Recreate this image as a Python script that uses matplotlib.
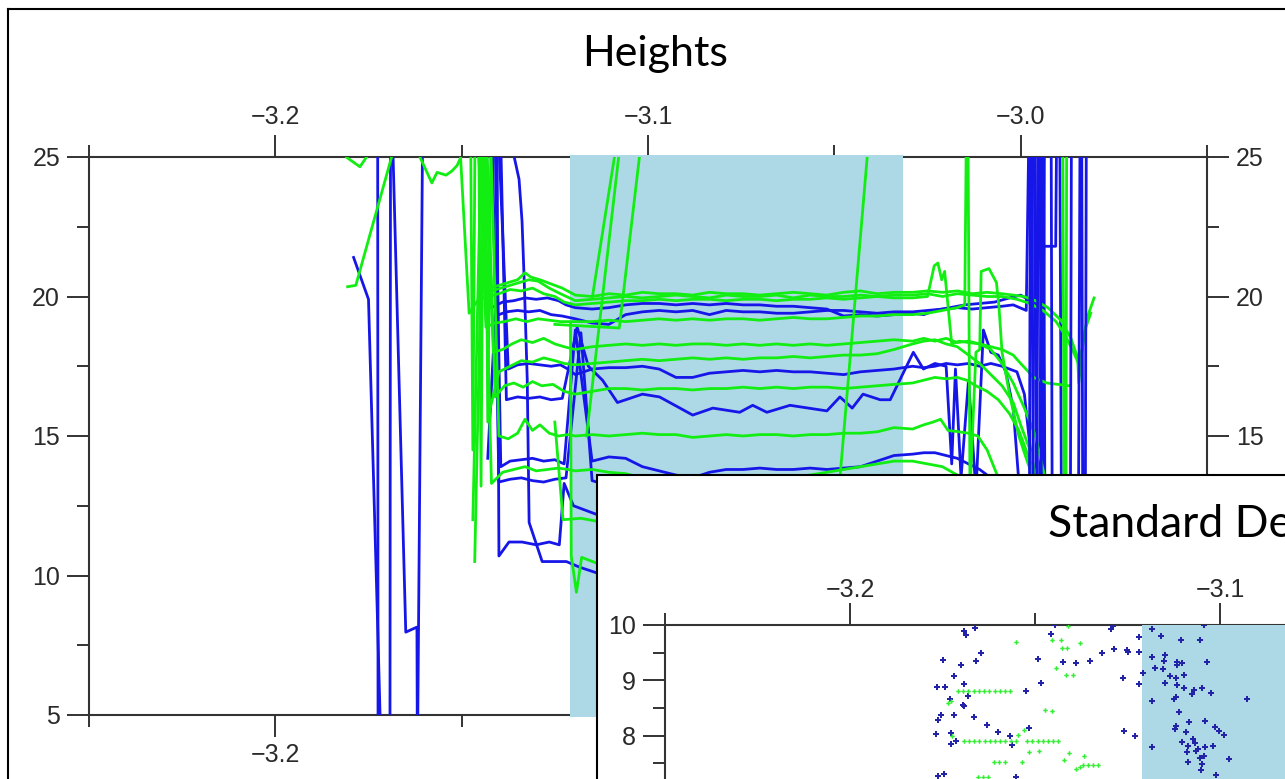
import matplotlib
matplotlib.use("Agg")
import matplotlib.pyplot as plt
from matplotlib.patches import Rectangle
from matplotlib.lines import Line2D

plt.rcParams['font.family'] = ['Liberation Sans', 'DejaVu Sans']

W, H = 1285, 779

# ---- tick values / labels ----
x_major = [-3.2, -3.1, -3.0]
x_minor = [-3.25, -3.15, -3.05, -2.95]
x_labels = ['\u22123.2', '\u22123.1', '\u22123.0']
y_major = [5, 10, 15, 20, 25]
y_minor = [7.5, 12.5, 17.5, 22.5]
sd_x_major = [-3.2, -3.1]
sd_x_minor = [-3.25, -3.15]
sd_x_labels = ['\u22123.2', '\u22123.1']
sd_y_major = [8, 9, 10]
sd_y_minor = [7.5, 8.5, 9.5]
span = [-3.1210, -3.0315]

# ---- Heights: shared x of the flat part inside the shaded band ----
x_band = [-3.1195, -3.1150, -3.1105, -3.1060, -3.1015, -3.0970, -3.0925, -3.0880, -3.0835, -3.0790,
          -3.0745, -3.0700, -3.0655, -3.0610, -3.0565, -3.0520, -3.0475, -3.0430, -3.0385, -3.0340]

# green traces
g1_lx = [-3.1480, -3.1452, -3.1425, -3.1400, -3.1375, -3.1350, -3.1330, -3.1315, -3.1290, -3.1260, -3.1230]
g1_ly = [31.0, 24.5, 20.3, 20.4, 20.5, 20.6, 20.85, 20.7, 20.6, 20.45, 20.3]
g1_b = [20.05, 20.0, 20.1, 20.05, 20.15, 20.1, 20.1, 20.05, 20.15, 20.1, 20.1, 20.05, 20.1, 20.15, 20.1, 20.05, 20.15, 20.2, 20.1, 20.15]
g1_rx = [-3.0290, -3.0250, -3.0210, -3.0170, -3.0130, -3.0090, -3.0050, -3.0020, -2.9992, -2.9960, -2.9927, -2.9892, -2.9865, -2.9847, -2.9844, -2.9833, -2.9820, -2.9803]
g1_ry = [20.15, 20.2, 20.15, 20.2, 20.1, 20.15, 20.1, 20.05, 20.0, 19.85, 19.6, 19.15, 18.5, 17.8, 16.9, 18.4, 19.3, 19.95]

g2_lx = [-3.1470, -3.1445, -3.1420, -3.1395, -3.1370, -3.1345, -3.1320, -3.1295, -3.1265, -3.1235]
g2_ly = [12.0, 27.0, 20.2, 20.3, 20.4, 20.5, 20.6, 20.55, 20.3, 20.1]
g2_b = [19.85, 19.9, 19.95, 20.0, 19.95, 20.0, 20.05, 20.0, 19.95, 20.05, 20.0, 20.0, 20.05, 19.95, 20.05, 20.0, 20.0, 20.05, 20.0, 20.05]
g2_rx = [-3.0290, -3.0250, -3.0210, -3.0170, -3.0130, -3.0090, -3.0050, -3.0010, -2.9975, -2.9940, -2.9905, -2.9880, -2.9858, -2.9845, -2.9835, -2.9825, -2.9812]
g2_ry = [20.05, 20.1, 20.0, 20.1, 20.05, 20.0, 20.0, 19.9, 19.75, 19.5, 19.1, 18.6, 18.0, 17.6, 18.1, 18.9, 19.4]

g3_lx = [-3.1505, -3.1480, -3.1455, -3.1430, -3.1400, -3.1370, -3.1340, -3.1310, -3.1280, -3.1250, -3.1225]
g3_ly = [25.5, 19.4, 19.9, 20.0, 20.1, 20.25, 20.2, 20.3, 20.1, 20.0, 19.8]
g3_b = [19.7, 19.75, 19.8, 19.85, 19.85, 19.9, 19.85, 19.9, 19.9, 19.85, 19.9, 19.9, 19.85, 19.9, 19.9, 19.95, 19.9, 19.95, 20.0, 19.95]
g3_rx = [-3.0290, -3.0250, -3.0232, -3.0222, -3.0212, -3.0204, -3.0185, -3.0165, -3.0140, -3.0110, -3.0080, -3.0050, -3.0020, -2.9990, -2.9960, -2.9935]
g3_ry = [19.95, 20.0, 21.1, 21.2, 20.6, 20.9, 18.3, 18.4, 18.35, 18.3, 18.1, 17.6, 16.9, 16.0, 15.0, 13.5]

g4_lx = [-3.1460, -3.1435, -3.1410, -3.1385, -3.1355, -3.1325, -3.1295, -3.1265, -3.1235]
g4_ly = [27.5, 18.9, 19.05, 19.1, 19.2, 19.1, 19.2, 19.15, 19.1]
g4_b = [19.1, 19.1, 19.15, 19.1, 19.15, 19.2, 19.15, 19.2, 19.15, 19.2, 19.2, 19.15, 19.2, 19.25, 19.2, 19.2, 19.25, 19.3, 19.3, 19.35]
g4_rx = [-3.0290, -3.0250, -3.0210, -3.0170, -3.0150, -3.0143, -3.0136, -3.0120, -3.0110, -3.0106, -3.0085, -3.0065, -3.0058, -3.0050, -3.0030, -3.0005, -2.9980, -2.9950, -2.9920]
g4_ry = [19.35, 19.4, 19.5, 19.6, 19.7, 30.0, 13.0, 18.0, 18.1, 20.9, 21.0, 20.5, 19.6, 18.0, 16.5, 15.0, 14.0, 13.0, 12.0]

g5_lx = [-3.1465, -3.1440, -3.1415, -3.1390, -3.1365, -3.1340, -3.1310, -3.1280, -3.1250, -3.1225]
g5_ly = [10.5, 26.0, 18.0, 18.1, 18.3, 18.45, 18.35, 18.5, 18.3, 18.2]
g5_b = [18.1, 18.2, 18.25, 18.3, 18.25, 18.3, 18.25, 18.3, 18.3, 18.25, 18.3, 18.25, 18.3, 18.25, 18.3, 18.25, 18.3, 18.35, 18.4, 18.45]
g5_rx = [-3.0290, -3.0260, -3.0230, -3.0200, -3.0170, -3.0140, -3.0110, -3.0080, -3.0050, -3.0020, -3.0000, -2.9965, -2.9930, -2.9900, -2.9870]
g5_ry = [18.4, 18.5, 18.4, 18.5, 18.35, 18.4, 18.3, 18.2, 18.1, 17.9, 17.6, 17.1, 16.9, 16.85, 16.8]

g6_lx = [-3.1450, -3.1425, -3.1400, -3.1370, -3.1340, -3.1310, -3.1280, -3.1250, -3.1225]
g6_ly = [28.0, 15.9, 17.3, 17.5, 17.7, 17.65, 17.8, 17.7, 17.6]
g6_b = [17.55, 17.6, 17.65, 17.7, 17.75, 17.7, 17.75, 17.8, 17.75, 17.8, 17.75, 17.8, 17.8, 17.85, 17.8, 17.85, 17.9, 17.9, 17.95, 18.1]
g6_rx = [-3.0290, -3.0260, -3.0230, -3.0200, -3.0170, -3.0140, -3.0110, -3.0080, -3.0050, -3.0020, -3.0000, -2.9975, -2.9950]
g6_ry = [18.3, 18.4, 18.45, 18.3, 18.2, 17.9, 17.6, 17.2, 16.8, 16.2, 15.4, 14.5, 13.0]

g7_lx = [-3.1435, -3.1410, -3.1385, -3.1360, -3.1335, -3.1310, -3.1285, -3.1255, -3.1225]
g7_ly = [26.5, 16.4, 16.8, 16.9, 16.75, 16.95, 16.8, 16.85, 16.6]
g7_b = [16.5, 16.6, 16.7, 16.7, 16.65, 16.7, 16.7, 16.65, 16.7, 16.7, 16.75, 16.7, 16.75, 16.7, 16.75, 16.75, 16.7, 16.75, 16.8, 16.85]
g7_rx = [-3.0290, -3.0260, -3.0230, -3.0200, -3.0170, -3.0145, -3.0120, -3.0090, -3.0060, -3.0030, -3.0005, -2.9980, -2.9955]
g7_ry = [16.9, 17.0, 17.1, 17.05, 17.1, 17.0, 16.8, 16.6, 16.3, 15.8, 15.2, 14.3, 13.0]

g8_lx = [-3.1425, -3.1400, -3.1375, -3.1350, -3.1330, -3.1310, -3.1290, -3.1265, -3.1240, -3.1215]
g8_ly = [27.0, 15.0, 14.9, 15.1, 15.6, 15.2, 15.4, 15.1, 15.0, 15.05]
g8_b = [15.0, 15.05, 15.0, 15.05, 15.1, 15.05, 15.05, 14.95, 15.0, 15.05, 15.0, 15.05, 15.05, 15.0, 15.05, 15.05, 15.1, 15.1, 15.15, 15.3]
g8_rx = [-3.0290, -3.0260, -3.0235, -3.0215, -3.0195, -3.0165, -3.0140, -3.0115, -3.0090, -3.0060, -3.0030]
g8_ry = [15.25, 15.4, 15.5, 15.6, 15.2, 15.15, 15.1, 15.0, 14.5, 13.5, 12.0]

g9_lx = [-3.1445, -3.1420, -3.1390, -3.1360, -3.1330, -3.1300, -3.1270, -3.1240, -3.1215]
g9_ly = [26.0, 13.3, 13.7, 13.8, 13.9, 13.75, 13.8, 13.85, 13.8]
g9_b = [13.75, 13.8, 13.7, 13.65, 13.5, 13.4, 13.4, 13.45, 13.4, 13.5, 13.5, 13.45, 13.5, 13.55, 13.6, 13.7, 13.8, 13.9, 14.0, 14.1]
g9_rx = [-3.0290, -3.0250, -3.0210, -3.0170]
g9_ry = [14.1, 14.0, 13.9, 13.6]

# short green pieces
g10_x = [-3.1208, -3.1206, -3.1192, -3.1178, -3.1139, -3.1000]
g10_y = [19.0, 10.7, 9.4, 10.65, 10.45, 10.4]
g11_x = [-3.1250, -3.1228, -3.1180, -3.1139, -3.1050]
g11_y = [15.5, 12.0, 12.05, 11.95, 12.0]
s1_x = [-3.1149, -3.1090, -3.1060]
s1_y = [20.0, 25.0, 27.5]
s2_x = [-3.1165, -3.1077, -3.1060]
s2_y = [15.0, 25.2, 26.5]
s3_x = [-3.1250, -3.1077, -3.1023, -3.1010]
s3_y = [19.0, 18.87, 25.0, 26.5]
s4_x = [-3.0539, -3.0380]
s4_y = [5.0, 30.0]
l1_x = [-3.1806, -3.1784, -3.1688, -3.1660]
l1_y = [20.35, 20.4, 25.0, 26.5]
l2_x = [-3.1815, -3.1810, -3.1773, -3.1750, -3.1745]
l2_y = [26.0, 25.0, 24.65, 25.1, 26.0]
l3_x = [-3.1618, -3.1612, -3.1580, -3.1566, -3.1542, -3.1526, -3.1512, -3.1502, -3.1490]
l3_y = [26.0, 25.0, 24.07, 24.45, 24.35, 24.5, 24.7, 25.0, 25.6]
gr1_x = [-2.9888, -2.9880, -2.9876]
gr1_y = [30.0, 0.0, 30.0]
c1_x = [-3.1478, -3.1470, -3.1462]
c1_y = [30.0, 14.5, 30.0]
c2_x = [-3.1456, -3.1448, -3.1440]
c2_y = [30.0, 13.2, 30.0]
c3_x = [-3.1438, -3.1430, -3.1418]
c3_y = [30.0, 15.5, 30.0]

# blue traces
b1_lx = [-3.1440, -3.1420, -3.1390, -3.1360, -3.1330, -3.1300, -3.1270, -3.1240, -3.1220]
b1_ly = [28.0, 19.6, 19.8, 19.85, 19.95, 19.9, 19.95, 19.85, 19.7]
b1_b = [19.6, 19.55, 19.6, 19.7, 19.75, 19.75, 19.7, 19.75, 19.7, 19.75, 19.7, 19.7, 19.65, 19.65, 19.6, 19.55, 19.3, 19.35, 19.3, 19.35]
b1_rx = [-3.0290, -3.0260, -3.0230, -3.0190, -3.0150, -3.0110, -3.0070, -3.0030, -3.0000, -2.9975, -2.9962, -2.9955, -2.9945, -2.9935, -2.9925]
b1_ry = [19.4, 19.35, 19.5, 19.6, 19.7, 19.75, 19.8, 19.95, 20.05, 19.85, 30.0, 5.0, -5.0, 30.0, 40.0]

b2_lx = [-3.1430, -3.1410, -3.1380, -3.1350, -3.1320, -3.1290, -3.1260, -3.1230]
b2_ly = [14.2, 19.3, 19.45, 19.5, 19.45, 19.5, 19.35, 19.3]
b2_b = [19.2, 19.05, 19.0, 19.35, 19.45, 19.5, 19.45, 19.5, 19.35, 19.5, 19.45, 19.45, 19.4, 19.4, 19.45, 19.5, 19.5, 19.45, 19.4, 19.45]
b2_rx = [-3.0290, -3.0250, -3.0210, -3.0170, -3.0130, -3.0090, -3.0050, -3.0020, -2.9985, -2.9968, -2.9950, -2.9938, -2.9906, -2.9898, -2.9885]
b2_ry = [19.45, 19.5, 19.55, 19.6, 19.55, 19.6, 19.65, 19.7, 19.5, 35.0, -5.0, 21.8, 21.8, 35.0, -5.0]

b3_lx = [-3.1400, -3.1375, -3.1350, -3.1320, -3.1290, -3.1260, -3.1235, -3.1215]
b3_ly = [25.5, 17.4, 17.55, 17.6, 17.55, 17.5, 17.55, 17.4]
b3_b = [17.2, 17.4, 17.45, 17.45, 17.5, 17.4, 17.1, 17.1, 17.25, 17.3, 17.35, 17.3, 17.35, 17.3, 17.3, 17.25, 17.2, 17.3, 17.35, 17.4]
b3_rx = [-3.0290, -3.0260, -3.0230, -3.0200, -3.0170, -3.0140, -3.0110, -3.0080, -3.0050, -3.0030, -3.0010, -2.9990, -2.9970, -2.9950, -2.9940, -2.9930]
b3_ry = [17.5, 17.45, 17.5, 17.6, 17.55, 17.6, 17.5, 17.6, 17.5, 17.4, 17.3, 16.5, 14.0, 12.0, 30.0, -5.0]

b4_x = [-3.1395, -3.1380, -3.1350, -3.1320, -3.1290, -3.1260, -3.1230, -3.1190, -3.1160,
        -3.1122, -3.1082, -3.1015, -3.0969, -3.0880, -3.0826, -3.0754, -3.0719, -3.0681, -3.0619,
        -3.0520, -3.0485, -3.0452, -3.0423, -3.0377, -3.0350, -3.0288, -3.0261,
        -3.0230, -3.0200, -3.0185, -3.0175, -3.0160, -3.0140, -3.0120, -3.0100, -3.0080, -3.0060,
        -3.0040, -3.0020, -3.0000]
b4_y = [25.5, 16.3, 16.4, 16.35, 16.4, 16.3, 16.35, 18.9, 17.5,
        17.0, 16.2, 16.5, 16.4, 15.75, 16.0, 15.85, 16.1, 15.85, 16.1,
        15.9, 16.4, 16.0, 16.5, 16.3, 16.3, 18.0, 17.4,
        17.6, 17.5, 14.0, 17.4, 13.5, 17.0, 13.0, 18.8, 18.0, 17.9,
        17.3, 16.0, 12.5]

b5_lx = [-3.1410, -3.1395, -3.1370, -3.1340, -3.1310, -3.1280, -3.1250, -3.1225]
b5_ly = [25.5, 13.9, 14.1, 14.15, 14.2, 14.1, 14.15, 14.0]
b5_b = [18.8, 14.1, 14.25, 14.2, 13.9, 13.75, 13.6, 13.5, 13.7, 13.8, 13.8, 13.85, 13.8, 13.8, 13.85, 13.8, 13.85, 13.9, 14.1, 14.3]
b5_rx = [-3.0290, -3.0260, -3.0230, -3.0200, -3.0170, -3.0140, -3.0110, -3.0080, -3.0050]
b5_ry = [14.35, 14.4, 14.4, 14.3, 14.2, 14.0, 13.8, 13.5, 13.0]

b6_x = [-3.1420, -3.1400, -3.1370, -3.1340, -3.1310, -3.1280, -3.1250, -3.1220, -3.1180, -3.1150, -3.1100, -3.0900, -3.0600, -3.0300]
b6_y = [27.0, 13.35, 13.45, 13.5, 13.4, 13.35, 13.45, 13.5, 18.7, 13.4, 13.2, 13.1, 13.2, 13.3]
b7_x = [-3.1362, -3.1359, -3.1346, -3.1338, -3.1332, -3.1324, -3.1319, -3.1284, -3.1219, -3.1184, -3.1139, -3.1000, -3.0800]
b7_y = [26.0, 25.0, 24.2, 22.7, 20.5, 17.0, 11.9, 10.5, 10.5, 10.3, 10.1, 10.0, 10.0]
b8_x = [-3.1405, -3.1400, -3.1373, -3.1338, -3.1300, -3.1265, -3.1238, -3.1225, -3.1200, -3.1100, -3.0900]
b8_y = [26.0, 10.7, 11.2, 11.2, 11.1, 11.2, 11.1, 13.3, 12.5, 12.0, 12.0]

lb1_x = [-3.1790, -3.1750, -3.1725, -3.1715]
lb1_y = [21.4, 19.9, 8.0, 3.0]
lb2_x = [-3.1726, -3.1724, -3.1693, -3.1690]
lb2_y = [40.0, -5.0, -5.0, 40.0]
lb3_x = [-3.1685, -3.1650, -3.1620, -3.1619]
lb3_y = [25.5, 7.97, 8.15, 4.0]
lb4_x = [-3.1605, -3.1618]
lb4_y = [25.5, 4.5]
br1_x = [-2.9980, -2.9972, -2.9962, -2.9950, -2.9940]
br1_y = [-5.0, 35.0, -5.0, 35.0, -5.0]
br2_x = [-2.9920, -2.9912, -2.9870, -2.9862]
br2_y = [35.0, -5.0, -5.0, 35.0]
br3_x = [-2.9850, -2.9838, -2.9830, -2.9822]
br3_y = [-5.0, 35.0, -5.0, 35.0]

# ---- Standard Deviation inset: scatter points ----
sd_blue_x = [-3.1691, -3.1687, -3.1661, -3.1750, -3.1700, -3.1647, -3.1660, -3.1720, -3.1693, -3.1764,
             -3.1744, -3.1681, -3.1731, -3.1695, -3.1693, -3.1762, -3.1753, -3.1720, -3.1664, -3.1629,
             -3.1767, -3.1726, -3.1714, -3.1726, -3.1599, -3.1567, -3.1563, -3.1516, -3.1525, -3.1492,
             -3.1483, -3.1458, -3.1446, -3.1424, -3.1390, -3.1352, -3.1319, -3.1286, -3.1251, -3.1250,
             -3.1218, -3.1294, -3.1289, -3.1262, -3.1218, -3.1209, -3.1218, -3.1183, -3.1159, -3.1106,
             -3.1055, -3.1044, -3.1185, -3.1150, -3.1152, -3.1116, -3.1103, -3.1155, -3.1177, -3.1117,
             -3.1035, -3.1136, -3.1120, -3.1097, -3.1148, -3.1115, -3.1097, -3.1071, -3.1077, -3.1050,
             -3.1024, -3.1183, -3.1124, -3.1120, -3.1112, -3.0927, -3.1118, -3.1122, -3.1085, -3.1041,
             -3.1014, -3.1004, -3.0988, -3.1260, -3.1230, -3.1185, -3.1103, -3.1086, -3.1074, -3.1068,
             -3.1059, -3.1041, -3.1020, -3.1089, -3.1086, -3.1053, -3.1065, -3.1044, -3.0976, -3.1050,
             -3.1051, -3.1012, -3.1762, -3.1746, -3.1551, -3.1091]
sd_blue_y = [9.90, 9.82, 9.94, 9.36, 9.27, 9.49, 9.34, 9.08, 8.93, 8.87,
             8.87, 8.71, 8.66, 8.55, 8.53, 8.29, 8.37, 8.37, 8.34, 8.19,
             8.03, 8.05, 7.91, 7.84, 8.06, 7.99, 7.83, 8.13, 8.80, 9.39,
             8.96, 9.83, 10.0, 9.33, 9.31, 9.34, 9.49, 9.57, 9.55, 9.52,
             9.52, 9.93, 9.98, 9.05, 8.93, 9.14, 9.79, 9.93, 9.81, 9.72,
             9.73, 10.0, 9.43, 9.46, 9.34, 9.33, 9.31, 9.20, 9.22, 9.27,
             9.33, 9.07, 9.05, 9.10, 8.96, 8.92, 8.86, 8.83, 8.75, 8.86,
             8.77, 8.63, 8.67, 8.69, 8.43, 8.67, 8.18, 8.12, 8.24, 8.26,
             8.15, 8.09, 8.01, 8.09, 8.00, 7.79, 7.88, 7.82, 7.94, 7.87,
             7.76, 7.79, 7.81, 7.70, 7.53, 7.59, 7.73, 7.64, 7.58, 7.49,
             7.37, 7.28, 7.27, 7.31, 7.26, 8.06]

sd_green_x = [-3.1708, -3.1694, -3.1680, -3.1666, -3.1652, -3.1638, -3.1623, -3.1609, -3.1595, -3.1581, -3.1567,
              -3.1693, -3.1679, -3.1665, -3.1651, -3.1636, -3.1622, -3.1608, -3.1594, -3.1580, -3.1566, -3.1551,
              -3.1522, -3.1508, -3.1493, -3.1479, -3.1465, -3.1451, -3.1439,
              -3.1551, -3.1411, -3.1455, -3.1431, -3.1427, -3.1413, -3.1379, -3.1443, -3.1416, -3.1398,
              -3.1472, -3.1455, -3.1736, -3.1728, -3.1723, -3.1547, -3.1531, -3.1517, -3.1488, -3.1407,
              -3.1368, -3.1421, -3.1390, -3.1378, -3.1370, -3.1358, -3.1344, -3.1329, -3.1535, -3.1610,
              -3.1596, -3.1582, -3.1655, -3.1641, -3.1627]
sd_green_y = [8.80, 8.80, 8.80, 8.80, 8.80, 8.80, 8.80, 8.80, 8.80, 8.80, 8.80,
              7.91, 7.91, 7.91, 7.91, 7.91, 7.91, 7.91, 7.91, 7.91, 7.91, 7.91,
              7.91, 7.91, 7.91, 7.91, 7.91, 7.91, 7.91,
              9.69, 9.99, 9.72, 9.72, 9.58, 9.58, 9.67, 9.23, 9.10, 9.10,
              8.46, 8.45, 8.59, 8.63, 7.99, 8.01, 8.11, 7.70, 7.73, 7.69,
              7.63, 7.56, 7.40, 7.43, 7.46, 7.46, 7.46, 7.46, 7.53, 7.53,
              7.53, 7.53, 7.26, 7.26, 7.26]

blue_traces = [
    (b1_lx + x_band + b1_rx, b1_ly + b1_b + b1_ry),
    (b2_lx + x_band + b2_rx, b2_ly + b2_b + b2_ry),
    (b3_lx + x_band + b3_rx, b3_ly + b3_b + b3_ry),
    (b4_x, b4_y),
    (b5_lx + x_band + b5_rx, b5_ly + b5_b + b5_ry),
    (b6_x, b6_y), (b7_x, b7_y), (b8_x, b8_y),
    (lb1_x, lb1_y), (lb2_x, lb2_y), (lb3_x, lb3_y), (lb4_x, lb4_y),
]
green_traces = [
    (g1_lx + x_band + g1_rx, g1_ly + g1_b + g1_ry),
    (g2_lx + x_band + g2_rx, g2_ly + g2_b + g2_ry),
    (g3_lx + x_band + g3_rx, g3_ly + g3_b + g3_ry),
    (g4_lx + x_band + g4_rx, g4_ly + g4_b + g4_ry),
    (g5_lx + x_band + g5_rx, g5_ly + g5_b + g5_ry),
    (g6_lx + x_band + g6_rx, g6_ly + g6_b + g6_ry),
    (g7_lx + x_band + g7_rx, g7_ly + g7_b + g7_ry),
    (g8_lx + x_band + g8_rx, g8_ly + g8_b + g8_ry),
    (g9_lx + x_band + g9_rx, g9_ly + g9_b + g9_ry),
    (g10_x, g10_y), (g11_x, g11_y),
    (s1_x, s1_y), (s2_x, s2_y), (s3_x, s3_y), (s4_x, s4_y),
    (l1_x, l1_y), (l2_x, l2_y), (l3_x, l3_y), (gr1_x, gr1_y),
    (c1_x, c1_y), (c2_x, c2_y), (c3_x, c3_y),
]
blue_spikes = [(br1_x, br1_y), (br2_x, br2_y), (br3_x, br3_y)]

BLUE = '#1616e8'
GREEN = '#12ee12'
LIGHT = '#add8e6'
AX = '#333333'
TXT = '#2a2a2a'
TITLE_FONT = ['Lato', 'DejaVu Sans']
LW = 2.0


def style_axis(ax):
    ax.tick_params(which='major', length=15.8, width=1.4, color=AX, labelsize=18, labelcolor=TXT)
    ax.tick_params(which='minor', length=8.6, width=1.4, color=AX)
    for s in ax.spines.values():
        s.set_color(AX)
        s.set_linewidth(1.5)


fig = plt.figure(figsize=(W / 100, H / 100), dpi=100)

# ---- main "Heights" axes ----
ax = fig.add_axes([89 / W, 1 - 715 / H, (1207 - 89) / W, (715 - 157) / H])
ax.set_xlim(-3.25, -2.95)
ax.set_ylim(5, 25)
ax.set_xticks(x_major, x_labels)
ax.set_xticks(x_minor, minor=True)
ax.set_yticks(y_major, [str(v) for v in y_major])
ax.set_yticks(y_minor, minor=True)
ax.tick_params(axis='x', which='both', top=True, bottom=True, labeltop=True, labelbottom=True, direction='out')
ax.tick_params(axis='y', which='both', left=True, right=True, labelleft=True, labelright=True, direction='out')
ax.tick_params(axis='x', which='major', pad=4)
ax.tick_params(axis='y', which='major', pad=5)
style_axis(ax)
# labels that sit under the inset panel in the screenshot
for t in ax.xaxis.get_major_ticks()[1:]:
    t.label1.set_visible(False)
for t in ax.yaxis.get_major_ticks()[:2]:
    t.label2.set_visible(False)

ax.add_patch(Rectangle((span[0], -0.004), span[1] - span[0], 1.008,
                       transform=ax.get_xaxis_transform(), facecolor=LIGHT,
                       edgecolor='none', clip_on=False, zorder=2.6))
for xs, ys in blue_traces:
    ax.plot(xs, ys, color=BLUE, lw=LW, zorder=3)
for xs, ys in green_traces:
    ax.plot(xs, ys, color=GREEN, lw=LW, zorder=3.1)
for xs, ys in blue_spikes:
    ax.plot(xs, ys, color=BLUE, lw=LW, zorder=3.2)

fig.text(655 / W, 1 - 66 / H, 'Heights', ha='center', va='baseline',
         fontsize=31, family=TITLE_FONT, color='black')

# ---- inset "Standard Deviation" panel (cut off by the screenshot edge) ----
fig.add_artist(Rectangle((597 / W, -0.2), 1.0, 0.2 + (H - 475) / H, transform=fig.transFigure,
                         facecolor='white', edgecolor='black', lw=1.5, zorder=2))
ax2 = fig.add_axes([665 / W, (H - 625 - 553) / H, 1110 / W, 553 / H])
ax2.set_zorder(3)
ax2.set_xlim(-3.25, -2.95)
ax2.set_ylim(0, 10)
ax2.set_xticks(sd_x_major, sd_x_labels)
ax2.set_xticks(sd_x_minor, minor=True)
ax2.set_yticks(sd_y_major, [str(v) for v in sd_y_major])
ax2.set_yticks(sd_y_minor, minor=True)
ax2.tick_params(axis='x', which='both', top=True, bottom=False, labeltop=True, labelbottom=False, direction='out')
ax2.tick_params(axis='y', which='both', left=True, right=False, labelleft=True, direction='out')
ax2.tick_params(axis='x', which='major', pad=1)
ax2.tick_params(axis='y', which='major', pad=5)
style_axis(ax2)
ax2.spines['right'].set_visible(False)
ax2.spines['bottom'].set_visible(False)
ax2.add_patch(Rectangle((span[0], -0.004), span[1] - span[0], 1.0045,
                        transform=ax2.get_xaxis_transform(), facecolor=LIGHT,
                        edgecolor='none', clip_on=False, zorder=2.6))
ax2.plot(sd_blue_x, sd_blue_y, linestyle='none', marker='P', ms=4.2, color='#2323a8', mew=0, zorder=3)
ax2.plot(sd_green_x, sd_green_y, linestyle='none', marker='P', ms=3.2, color='#33ee33', mew=0, zorder=3.1)

fig.text(1048 / W, 1 - 537 / H, 'Standard Deviation', ha='left', va='baseline',
         fontsize=32, family=TITLE_FONT, color='black', zorder=4)

# screenshot frame
fig.add_artist(Line2D([8 / W, 8 / W], [0, 1 - 9 / H], color='black', lw=1.5, transform=fig.transFigure, zorder=5))
fig.add_artist(Line2D([8 / W, 1], [1 - 9 / H, 1 - 9 / H], color='black', lw=1.5, transform=fig.transFigure, zorder=5))

fig.savefig('out.png', dpi=100)
